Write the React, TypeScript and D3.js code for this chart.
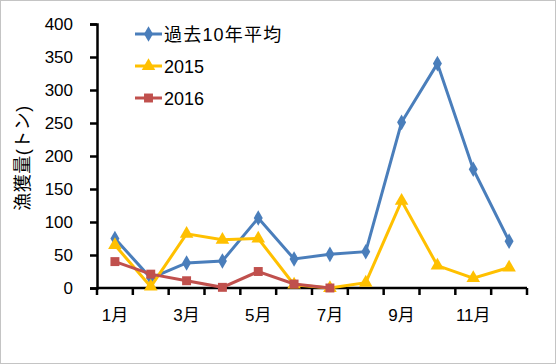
import React, { useEffect, useRef } from "react";
import * as d3 from "d3";

const months = ["1月", "2月", "3月", "4月", "5月", "6月", "7月", "8月", "9月", "10月", "11月", "12月"];
const avg10 = [75, 15, 38, 41, 106, 44, 51, 55, 251, 340, 180, 71];
const y2015 = [65, 2, 82, 73, 75, 5, 0, 8, 132, 34, 15, 31];
const y2016 = [40, 21, 11, 1, 25, 6, 0, null, null, null, null, null];
const yTicks = [0, 50, 100, 150, 200, 250, 300, 350, 400];

const seriesList = [
  { name: "過去10年平均", values: avg10, color: "#4A7EBB", marker: "diamond" },
  { name: "2015", values: y2015, color: "#FFC000", marker: "triangle" },
  { name: "2016", values: y2016, color: "#C0504D", marker: "square" },
];

const font = "'Liberation Sans', 'Noto Sans CJK JP', sans-serif";

export default function App() {
  const ref = useRef<SVGSVGElement>(null);

  useEffect(() => {
    const svg = d3.select(ref.current);
    svg.selectAll("*").remove();

    const width = 556;
    const height = 364;
    const margin = { top: 24, right: 29, bottom: 76, left: 97 };

    svg
      .append("rect")
      .attr("x", 0.5)
      .attr("y", 0.5)
      .attr("width", width - 1)
      .attr("height", height - 1)
      .attr("fill", "#fff")
      .attr("stroke", "#888")
      .attr("stroke-dasharray", "1,1");

    const x = d3
      .scaleBand()
      .domain(months)
      .range([margin.left, width - margin.right]);

    const y = d3
      .scaleLinear()
      .domain([0, 400])
      .range([height - margin.bottom, margin.top]);

    // y axis
    const yAxis = svg
      .append("g")
      .attr("transform", `translate(${margin.left},0)`)
      .call(d3.axisLeft(y).tickValues(yTicks).tickSize(7).tickPadding(17));
    yAxis.select(".domain").attr("stroke", "#000").attr("stroke-width", 2.5);
    yAxis.selectAll(".tick line").attr("stroke", "#000").attr("stroke-width", 2.5);
    yAxis
      .selectAll(".tick text")
      .attr("font-family", font)
      .attr("font-size", 17)
      .attr("fill", "#000");

    // x axis
    const boundaries = d3.range(months.length + 1).map((i) => margin.left + i * x.step());
    const xg = svg.append("g");
    xg.append("line")
      .attr("x1", margin.left)
      .attr("x2", width - margin.right)
      .attr("y1", y(0))
      .attr("y2", y(0))
      .attr("stroke", "#000")
      .attr("stroke-width", 2.5);
    xg.selectAll(".tk")
      .data(boundaries)
      .enter()
      .append("line")
      .attr("x1", (d) => d)
      .attr("x2", (d) => d)
      .attr("y1", y(0))
      .attr("y2", y(0) + 7)
      .attr("stroke", "#000")
      .attr("stroke-width", 2.5);
    xg.selectAll(".lbl")
      .data(months.filter((_, i) => i % 2 === 0))
      .enter()
      .append("text")
      .attr("x", (d) => x(d)! + x.bandwidth() / 2)
      .attr("y", 321)
      .attr("text-anchor", "middle")
      .attr("font-family", font)
      .attr("font-size", 17)
      .text((d) => d);

    // y label
    svg
      .append("text")
      .attr("transform", `translate(29,158) rotate(-90)`)
      .attr("text-anchor", "middle")
      .attr("font-family", font)
      .attr("font-size", 18)
      .attr("letter-spacing", 0.5)
      .text("漁獲量(トン)");

    const line = d3
      .line<number | null>()
      .defined((d) => d != null)
      .x((_, i) => x(months[i])! + x.bandwidth() / 2)
      .y((d) => y(d as number));

    const symbolType: Record<string, d3.SymbolType> = {
      diamond: d3.symbolDiamond,
      triangle: d3.symbolTriangle,
      square: d3.symbolSquare,
    };

    seriesList.forEach((s) => {
      svg
        .append("path")
        .datum(s.values)
        .attr("d", line)
        .attr("fill", "none")
        .attr("stroke", s.color)
        .attr("stroke-width", 3);
      const sym = d3.symbol().type(symbolType[s.marker]).size(s.marker === "diamond" ? 70 : 80);
      svg
        .append("g")
        .selectAll("path")
        .data(s.values.map((v, i) => ({ v, i })).filter((d) => d.v != null))
        .enter()
        .append("path")
        .attr("d", sym)
        .attr(
          "transform",
          (d) => `translate(${x(months[d.i])! + x.bandwidth() / 2},${y(d.v as number)})`
        )
        .attr("fill", s.color);
    });

    // legend
    const legend = svg.append("g");
    seriesList.forEach((s, i) => {
      const ly = 34 + i * 32;
      legend
        .append("line")
        .attr("x1", 135)
        .attr("x2", 162)
        .attr("y1", ly)
        .attr("y2", ly)
        .attr("stroke", s.color)
        .attr("stroke-width", 3);
      legend
        .append("path")
        .attr("d", d3.symbol().type(symbolType[s.marker]).size(s.marker === "diamond" ? 70 : 80)())
        .attr("transform", `translate(148.5,${ly})`)
        .attr("fill", s.color);
      legend
        .append("text")
        .attr("x", 164)
        .attr("y", ly + 7)
        .attr("font-family", font)
        .attr("font-size", 18)
        .attr("letter-spacing", i === 0 ? 1.2 : 0)
        .text(s.name);
    });
  }, []);

  return (
    <div style={{ position: "absolute", left: 0, top: 0 }}>
      <svg ref={ref} width={556} height={364} style={{ display: "block" }} />
    </div>
  );
}
